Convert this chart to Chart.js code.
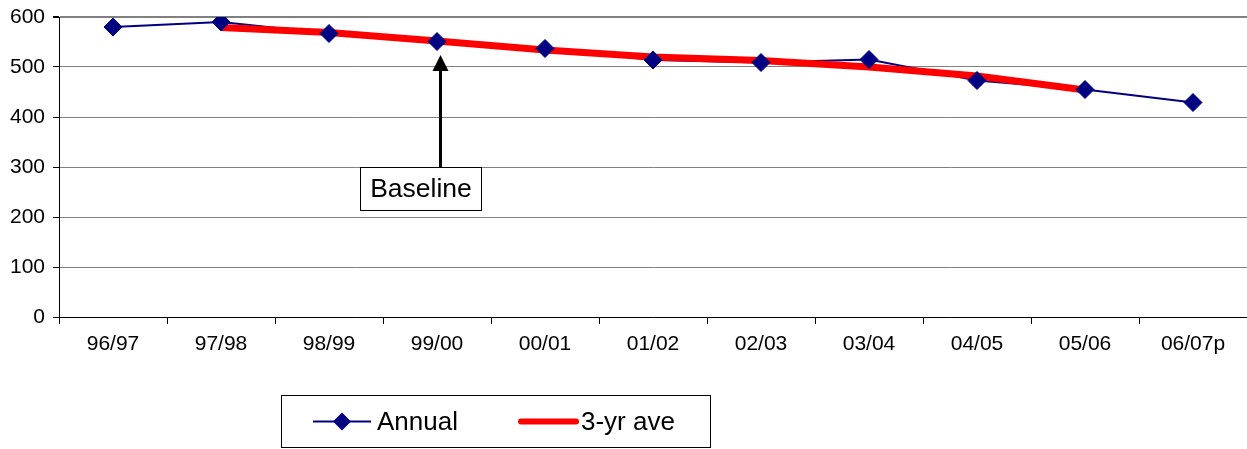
<!DOCTYPE html>
<html>
<head>
<meta charset="utf-8">
<script src="https://cdn.jsdelivr.net/npm/chart.js@4/dist/chart.umd.min.js"></script>
<style>
  html, body { margin: 0; padding: 0; background: #fff; overflow: hidden; }
  #wrap { width: 1247px; height: 449px; position: relative; overflow: hidden; }
  #chart { display: block; }
</style>
</head>
<body>
<div id="wrap"><canvas id="chart"></canvas></div>
<script>
// data
const years = ['96/97', '97/98', '98/99', '99/00', '00/01', '01/02', '02/03', '03/04', '04/05', '05/06', '06/07p'];
const annual = [580, 590, 567, 551, 537, 514, 509, 515, 473, 455, 429];
const threeYrAve = [null, 579, 569, 552, 534, 520, 513, 500, 482, 454, null];
const yTicks = [0, 100, 200, 300, 400, 500, 600];

// "Baseline" call-out
const baselineYear = '99/00';
const arrowTip = 524;
const boxTop = 300;

const FONT = 'Arial, "Liberation Sans", sans-serif';
const NAVY = '#000080';
const RED = '#ff0000';

// legend + annotation, drawn by hand
const extras = {
  id: 'extras',
  afterDraw(chart) {
    const ctx = chart.ctx;
    const xs = chart.scales.x, ys = chart.scales.y;

    // arrow to the baseline year (sits a touch right of the point)
    const ax = Math.round(xs.getPixelForValue(years.indexOf(baselineYear))) + 3.5;
    const tipY = ys.getPixelForValue(arrowTip);
    const bTop = Math.round(ys.getPixelForValue(boxTop)) + 0.5;
    ctx.save();
    ctx.strokeStyle = '#000';
    ctx.fillStyle = '#000';
    ctx.lineWidth = 3;
    ctx.beginPath();
    ctx.moveTo(ax, bTop);
    ctx.lineTo(ax, tipY + 12);
    ctx.stroke();
    ctx.beginPath();
    ctx.moveTo(ax, tipY);
    ctx.lineTo(ax - 8, tipY + 16);
    ctx.lineTo(ax + 8, tipY + 16);
    ctx.closePath();
    ctx.fill();

    // text box
    const bx = Math.round(ax - 81) + 0.5;
    ctx.fillStyle = '#fff';
    ctx.fillRect(bx, bTop, 121, 43);
    ctx.lineWidth = 1;
    ctx.strokeRect(bx, bTop, 121, 43);
    ctx.fillStyle = '#000';
    ctx.font = '26.5px ' + FONT;
    ctx.textAlign = 'center';
    ctx.textBaseline = 'middle';
    ctx.fillText('Baseline', bx + 60.5, bTop + 22);

    // legend
    ctx.strokeStyle = '#000';
    ctx.lineWidth = 1;
    ctx.strokeRect(281.5, 395.5, 429, 52);
    const ly = 421.5;
    ctx.strokeStyle = NAVY;
    ctx.lineWidth = 2;
    ctx.beginPath();
    ctx.moveTo(313, ly);
    ctx.lineTo(371, ly);
    ctx.stroke();
    ctx.fillStyle = NAVY;
    ctx.beginPath();
    ctx.moveTo(342, ly - 9);
    ctx.lineTo(351, ly);
    ctx.lineTo(342, ly + 9);
    ctx.lineTo(333, ly);
    ctx.closePath();
    ctx.fill();
    ctx.strokeStyle = RED;
    ctx.lineWidth = 6;
    ctx.lineCap = 'round';
    ctx.beginPath();
    ctx.moveTo(521, ly);
    ctx.lineTo(576, ly);
    ctx.stroke();
    ctx.fillStyle = '#000';
    ctx.font = '26px ' + FONT;
    ctx.textAlign = 'left';
    ctx.fillText('Annual', 377, ly + 1);
    ctx.fillText('3-yr ave', 581, ly + 1);
    ctx.restore();
  }
};

new Chart(document.getElementById('chart'), {
  type: 'line',
  data: {
    labels: years,
    datasets: [
      { label: 'Annual', data: annual, borderColor: NAVY, borderWidth: 2, pointRadius: 0, order: 3 },
      { label: '3-yr ave', data: threeYrAve, borderColor: RED, borderWidth: 7, pointRadius: 0, order: 2 },
      { label: 'Annual points', data: annual, showLine: false, pointStyle: 'rectRot', pointRadius: 9,
        pointBackgroundColor: NAVY, pointBorderColor: NAVY, pointBorderWidth: 1, order: 1 }
    ]
  },
  options: {
    responsive: true,
    maintainAspectRatio: false,
    animation: false,
    events: [],
    // plot runs slightly past the right edge, as in the original
    layout: { autoPadding: false, padding: { top: 17, right: -4, left: 0, bottom: 0 } },
    plugins: { legend: { display: false }, tooltip: { enabled: false } },
    scales: {
      x: {
        offset: true,
        grid: { offset: true, drawOnChartArea: false, color: '#000', tickLength: 7 },
        border: { color: '#000', width: 1 },
        ticks: { color: '#000', font: { family: FONT, size: 21 }, padding: 8, maxRotation: 0, autoSkip: false },
        afterFit(s) { s.height = 132; s.paddingLeft = 0; s.paddingRight = 0; }
      },
      y: {
        min: 0,
        max: 600,
        afterBuildTicks(s) { s.ticks = yTicks.map(v => ({ value: v })); },
        grid: { color: '#808080', tickColor: '#000', tickLength: 6,
                lineWidth: c => (c.tick && c.tick.value === 600 ? 2 : 1) },
        border: { color: '#000', width: 1 },
        ticks: { color: '#000', font: { family: FONT, size: 21 }, padding: 8 },
        afterFit(s) { s.width = 59; s.paddingTop = 0; s.paddingBottom = 0; }
      }
    }
  },
  plugins: [extras]
});
</script>
</body>
</html>
